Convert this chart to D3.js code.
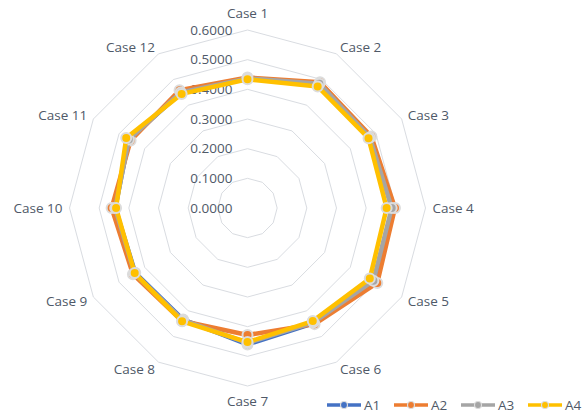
<!DOCTYPE html>
<html>
<head>
<meta charset="utf-8">
<script src="https://cdn.jsdelivr.net/npm/d3@7"></script>
<style>
  body { margin: 0; background: #fff; }
  text { font-family: "Open Sans", "Liberation Sans", sans-serif; fill: #4f5968; }
</style>
</head>
<body>
<svg id="chart" width="587" height="414"></svg>
<script>
// categories around the radar
var cases = ['Case 1', 'Case 2', 'Case 3', 'Case 4', 'Case 5', 'Case 6',
  'Case 7', 'Case 8', 'Case 9', 'Case 10', 'Case 11', 'Case 12'];

var tickValues = [0, 0.1, 0.2, 0.3, 0.4, 0.5, 0.6];

var seriesNames = ['A1', 'A2', 'A3', 'A4'];
var a1 = [0.436, 0.483, 0.474, 0.490, 0.492, 0.448, 0.460, 0.434, 0.437, 0.446, 0.462, 0.449];
var a2 = [0.440, 0.489, 0.482, 0.497, 0.505, 0.452, 0.428, 0.440, 0.446, 0.458, 0.455, 0.458];
var a3 = [0.437, 0.484, 0.476, 0.486, 0.490, 0.445, 0.455, 0.436, 0.440, 0.446, 0.462, 0.450];
var a4 = [0.434, 0.473, 0.471, 0.469, 0.476, 0.440, 0.452, 0.441, 0.439, 0.443, 0.472, 0.444];
var colors = ['#4472C4', '#ED7D31', '#A5A5A5', '#FFC000'];

var svg = d3.select('#chart'),
  cx = 247.5,
  cy = 208;

var r = d3.scaleLinear().domain([0, 0.6]).range([0, 178]);
//one spoke per case, clockwise from the top
var angle = d3.scaleLinear().domain([0, cases.length]).range([0, 2 * Math.PI]);

function pos(i, v) {
  var a = angle(i);
  return [cx + r(v) * Math.sin(a), cy - r(v) * Math.cos(a)];
}

var g = svg.append('g');

// grid rings
tickValues.filter(function (t) { return t > 0; }).forEach(function (t) {
  var pts = cases.map(function (c, i) { return pos(i, t); });
  g.append('polygon')
    .attr('points', pts.map(function (p) { return p.join(','); }).join(' '))
    .attr('fill', 'none')
    .attr('stroke', '#d9dce1')
    .attr('stroke-width', 1);
});

// tick labels
g.selectAll('.tick-label')
  .data(tickValues)
  .enter()
  .append('text')
  .attr('class', 'tick-label')
  .attr('x', cx - 15)
  .attr('y', function (d) { return cy - r(d); })
  .attr('dy', '0.35em')
  .attr('text-anchor', 'end')
  .style('font-size', '13.5px')
  .text(function (d) { return d3.format('.4f')(d); });

// category labels
g.selectAll('.cat-label')
  .data(cases)
  .enter()
  .append('text')
  .attr('class', 'cat-label')
  .attr('x', function (d, i) {
    return cx + 185 * Math.sin(angle(i));
  })
  .attr('y', function (d, i) {
    var c = Math.cos(angle(i));
    var y = cy - 186 * c;
    if (c > 0.9) y -= 9;
    if (c < -0.9) y += 7;
    return y;
  })
  .attr('dy', '0.35em')
  .attr('text-anchor', function (d, i) {
    var s = Math.sin(angle(i));
    return s > 0.1 ? 'start' : (s < -0.1 ? 'end' : 'middle');
  })
  .style('font-size', '13.5px')
  .text(function (d) { return d; });

// series
var series = [a1, a2, a3, a4];
var line = d3.line().curve(d3.curveLinearClosed);

series.forEach(function (vals, k) {
  var pts = vals.map(function (v, i) { return pos(i, v); });
  g.append('path')
    .attr('d', line(pts))
    .attr('fill', 'none')
    .attr('stroke', colors[k])
    .attr('stroke-width', 4.5)
    .attr('stroke-linejoin', 'round');
  g.selectAll('.m' + k)
    .data(pts)
    .enter()
    .append('circle')
    .attr('class', 'm' + k)
    .attr('cx', function (d) { return d[0]; })
    .attr('cy', function (d) { return d[1]; })
    .attr('r', 5)
    .attr('fill', colors[k])
    .attr('stroke', '#dcdcdc')
    .attr('stroke-width', 2);
});

// legend
var legend = svg.append('g').attr('transform', 'translate(327, 405)');
var item = legend.selectAll('g')
  .data(seriesNames)
  .enter()
  .append('g')
  .attr('transform', function (d, i) { return 'translate(' + (i * 67) + ',0)'; });

item.append('line')
  .attr('x1', 0).attr('x2', 34)
  .attr('stroke', function (d, i) { return colors[i]; })
  .attr('stroke-width', 3.5);
item.append('circle')
  .attr('cx', 17)
  .attr('r', 3.5)
  .attr('fill', function (d, i) { return colors[i]; })
  .attr('stroke', '#dcdcdc')
  .attr('stroke-width', 1.2);
item.append('text')
  .attr('x', 37)
  .attr('dy', '0.35em')
  .style('font-size', '13.5px')
  .text(function (d) { return d; });
</script>
</body>
</html>
